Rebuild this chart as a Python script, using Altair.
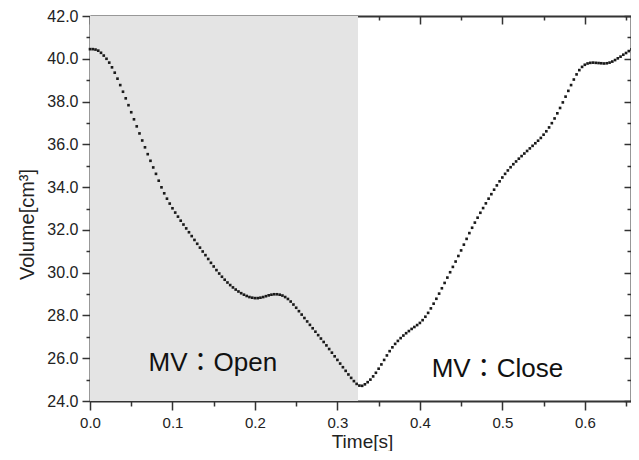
import altair as alt
import pandas as pd

# ---- data ----
sample_interval = 1 / 300  # seconds between samples

volume = [
    40.45, 40.45, 40.43, 40.38, 40.28, 40.15, 40.00, 39.82, 39.60, 39.35,
    39.07, 38.77, 38.46, 38.15, 37.83, 37.50, 37.17, 36.84, 36.51, 36.18,
    35.86, 35.54, 35.23, 34.92, 34.62, 34.30, 33.99, 33.71, 33.46, 33.23,
    33.01, 32.81, 32.62, 32.43, 32.25, 32.07, 31.89, 31.71, 31.53, 31.35,
    31.17, 30.99, 30.82, 30.64, 30.46, 30.29, 30.12, 29.96, 29.81, 29.67,
    29.54, 29.42, 29.31, 29.21, 29.12, 29.04, 28.97, 28.91, 28.86, 28.83,
    28.81, 28.81, 28.83, 28.86, 28.90, 28.94, 28.97, 28.99, 28.99, 28.97,
    28.93, 28.86, 28.77, 28.65, 28.51, 28.36, 28.20, 28.04, 27.88, 27.72,
    27.56, 27.40, 27.24, 27.08, 26.92, 26.76, 26.60, 26.43, 26.26, 26.09,
    25.92, 25.75, 25.58, 25.41, 25.24, 25.08, 24.93, 24.80, 24.72, 24.71,
    24.78, 24.88, 25.00, 25.15, 25.32, 25.51, 25.71, 25.92, 26.13, 26.33,
    26.51, 26.67, 26.81, 26.94, 27.06, 27.17, 27.27, 27.37, 27.46, 27.55,
    27.65, 27.78, 27.94, 28.12, 28.33, 28.55, 28.78, 29.02, 29.27, 29.52,
    29.77, 30.02, 30.27, 30.52, 30.78, 31.04, 31.31, 31.58, 31.85, 32.10,
    32.34, 32.57, 32.80, 33.02, 33.24, 33.46, 33.67, 33.88, 34.08, 34.27,
    34.45, 34.62, 34.78, 34.93, 35.07, 35.20, 35.33, 35.45, 35.57, 35.69,
    35.81, 35.93, 36.05, 36.17, 36.30, 36.45, 36.61, 36.79, 36.99, 37.21,
    37.45, 37.70, 37.96, 38.23, 38.50, 38.77, 39.03, 39.27, 39.47, 39.62,
    39.72, 39.78, 39.81, 39.82, 39.81, 39.80, 39.79, 39.78, 39.79, 39.82,
    39.87, 39.94, 40.02, 40.10, 40.19, 40.27, 40.36, 40.44,
]
time = [round(i * sample_interval, 5) for i in range(len(volume))]

open_start = [0.0]
open_end = [0.325]
vol_low = [24.0]
vol_high = [42.0]

label_text = ["MV\uff1aOpen", "MV\uff1aClose"]
label_time = [0.149, 0.494]
label_volume = [25.42, 25.14]

x_domain = [0.0, 0.656]
y_domain = [24.0, 42.0]
x_ticks = [round(k * 0.05, 2) for k in range(14)]
y_ticks = list(range(24, 43))

# ---- tables ----
curve_df = pd.DataFrame({"t": time, "v": volume})
shade_df = pd.DataFrame({"t0": open_start, "t1": open_end, "v0": vol_low, "v1": vol_high})
label_df = pd.DataFrame({"text": label_text, "t": label_time, "v": label_volume})

FONT = "Liberation Sans"
INK = "#222222"
LINE = "#333333"

xs = alt.Scale(domain=x_domain, nice=False, zero=False)
ys = alt.Scale(domain=y_domain, nice=False, zero=False)

common = dict(
    grid=False,
    labelOverlap=False,
    labelFlush=False,
    tickColor=LINE,
    tickWidth=1.5,
    domainColor=LINE,
    domainWidth=2,
    labelFont=FONT,
    labelColor=INK,
    titleFont=FONT,
    titleColor=INK,
    titleFontWeight="normal",
)

bottom_axis = alt.Axis(
    orient="bottom",
    values=x_ticks,
    labelExpr="round(datum.value * 20) % 2 === 0 ? format(datum.value, '.1f') : ''",
    tickSize={"expr": "round(datum.value * 20) % 2 === 0 ? 9 : 5"},
    labelPadding=5,
    labelFontSize=15,
    title="Time[s]",
    titleFontSize=19,
    titleX=272,
    titleY=46,
    titleAlign="center",
    titleBaseline="alphabetic",
    **common,
)
left_axis = alt.Axis(
    orient="left",
    values=y_ticks,
    labelExpr="datum.value % 2 === 0 ? format(datum.value, '.1f') : ''",
    tickSize={"expr": "datum.value % 2 === 0 ? 8 : 4"},
    labelPadding=4,
    labelFontSize=16,
    title="Volume[cm\u00b3]",
    titleFontSize=20,
    titleX=-57,
    titleY=208,
    titleAngle=270,
    titleAlign="center",
    titleBaseline="alphabetic",
    **common,
)
top_axis = alt.Axis(
    orient="top",
    values=x_ticks,
    labels=False,
    title=None,
    tickSize={"expr": "round(datum.value * 20) % 2 === 0 ? -8 : -4"},
    **common,
)
right_axis = alt.Axis(
    orient="right",
    values=y_ticks,
    labels=False,
    title=None,
    tickSize={"expr": "datum.value % 2 === 0 ? -7 : -4"},
    **common,
)

shade = alt.Chart(shade_df).mark_rect(color="#e4e4e4").encode(
    x=alt.X("t0:Q", scale=xs, axis=bottom_axis),
    x2="t1:Q",
    y=alt.Y("v0:Q", scale=ys, axis=left_axis),
    y2="v1:Q",
)

dots = alt.Chart(curve_df).mark_square(size=7, color="#1a1a1a", opacity=1).encode(
    x=alt.X("t:Q", scale=xs, axis=top_axis),
    y=alt.Y("v:Q", scale=ys, axis=right_axis),
)

labels = alt.Chart(label_df).mark_text(
    font=FONT + ", Noto Sans CJK JP",
    fontSize=26,
    align="center",
    baseline="alphabetic",
    color="#111111",
).encode(
    x=alt.X("t:Q", scale=xs, axis=None),
    y=alt.Y("v:Q", scale=ys, axis=None),
    text="text:N",
)

chart = (
    alt.layer(shade, dots, labels)
    .resolve_axis(x="independent", y="independent")
    .properties(
        width=541,
        height=385,
        autosize=alt.AutoSizeParams(type="none"),
        padding={"left": 82, "top": 8, "right": 0, "bottom": 50},
        background="white",
    )
    .configure_view(stroke=None)
)

chart.save("out.html", embed_options={"renderer": "svg", "actions": False})
